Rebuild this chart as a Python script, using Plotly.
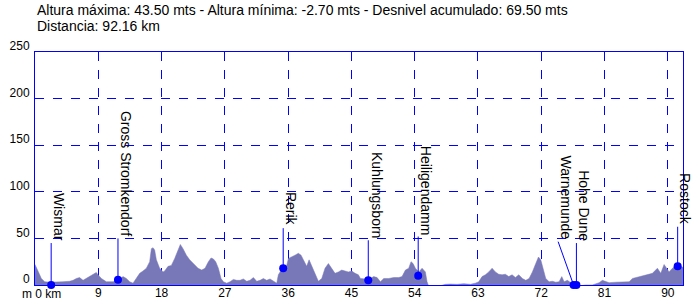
import plotly.graph_objects as go

# Elevation profile (km, m)
dist_km = [0.0, 0.28, 0.57, 0.90, 1.38, 2.09, 3.03, 3.98, 4.93, 5.41, 5.88, 6.35, 6.83, 7.30, 7.78,
           8.25, 8.72, 8.96, 9.44, 10.15, 11.10, 11.81, 12.52, 12.99, 13.47, 13.94, 14.41, 14.89,
           15.36, 15.84, 16.31, 16.55, 16.79, 17.02, 17.26, 17.73, 18.21, 18.44, 18.92, 19.39,
           19.87, 20.34, 20.67, 21.05, 21.53, 22.00, 22.48, 22.95, 23.19,
           23.71, 24.18, 24.66, 25.04, 25.37, 25.70, 26.08, 26.46, 26.79, 27.26, 27.74, 28.21,
           28.69, 29.16, 29.63, 30.11, 30.58, 31.06, 31.53, 32.01, 32.48, 32.95, 33.43, 33.90,
           34.38, 34.61, 34.85, 35.32, 35.80, 36.04, 36.51, 36.98, 37.46, 37.84, 38.17, 38.64,
           38.98, 39.36, 39.83, 40.30, 40.78, 41.25, 41.73, 42.20, 42.67, 43.15, 43.62, 44.10,
           44.57, 45.05, 45.52, 45.99,
           46.28, 46.99, 47.70, 48.17, 48.65, 49.12, 49.60, 50.31, 51.02, 51.73, 52.20, 52.68,
           53.15, 53.48, 53.77, 54.10, 54.58, 55.05, 55.52, 55.76, 56.00, 56.71, 57.66, 58.37,
           59.08, 60.03, 60.98, 61.92, 62.64, 63.11, 63.58, 64.06, 64.53, 65.01, 65.48, 65.96,
           66.43, 66.90, 67.38, 67.85, 68.33, 68.80,
           69.32, 69.80, 70.27, 70.74, 71.22, 71.60, 71.93, 72.26, 72.64, 73.12, 73.59, 74.06,
           74.54, 74.92, 75.25, 75.72, 76.20, 76.67, 77.38, 78.33, 79.28, 80.23, 80.70, 81.18,
           81.65, 82.60, 83.55, 84.50, 84.97, 85.92, 86.87, 87.81, 88.52, 89.00, 89.47, 89.81,
           90.18, 90.66, 91.13, 91.61, 92.08, 92.16]
elev_m = [22, 18, 12.5, 7, 3.5, 3, 3, 3.5, 4, 5, 7, 8, 5, 7, 9,
          11, 13.5, 11, 7, 3.5, 3.5, 5, 9, 7, 3.5, 2, 7, 12.5,
          15, 18, 25, 39, 40, 37.5, 27, 18, 14, 15, 20, 21,
          28.5, 37.5, 43.5, 39, 32, 27, 23, 20, 18,
          16, 18, 25, 29, 28, 25, 18, 7, 3.5, 2, 3.5, 6,
          5, 5, 6.5, 4, 5, 8, 4, 5, 7, 5, 6.5, 4,
          2, 11, 14, 18, 21, 28.5, 30, 32, 34, 32, 27, 20,
          27, 20, 11, 4, 7, 18, 23, 18, 12.5, 14, 16, 15,
          14, 15, 12.5, 11,
          7, 6.5, 7, 9, 8, 3.5, 7, 7, 8, 8, 9, 16,
          18, 25, 23, 18, 14, 18, 14, 3.5, -1.5, -2.7, -1, 0.7,
          1, 0.7, 1.4, 0.7, 2, 3.5, 9, 11, 14, 18, 14, 11.5,
          11, 11.5, 9, 11, 8, 11,
          7, 5, 7, 14, 23, 30, 27, 18, 7, 3.5, 4, 3,
          3.5, 9, 3.5, 5, 2, 0, -1, 0, 0, 2.5, 5, 3.5,
          2.5, 3, 3, 3.5, 7, 9, 11, 12.5, 18, 12.5, 22, 18,
          14, 18, 21, 20, 19, 19]

# Waypoints
wp_names = ["Wismar", "Gross Stromkendorf", "Rerik", "Kuhlungsborn", "Heiligendamm",
            "Warnemunde", "Hohe Dune", "Rostock"]
wp_km = [2.3, 11.8, 35.3, 47.4, 54.5, 76.6, 77.0, 91.4]
wp_elev = [0, 5.5, 18, 5, 10, 0, 0, 20]
wp_label_km = [2.3, 11.8, 35.3, 47.4, 54.5, 74.4, 77.0, 91.4]
wp_label_elev = [45, 50, 61, 48, 52, 46.5, 45, 62.5]

x_ticks = [9, 18, 27, 36, 45, 54, 63, 72, 81, 90]
y_ticks = [0, 50, 100, 150, 200, 250]

BLUE = "#0000ff"
FONT = "Liberation Sans, Arial, sans-serif"

fig = go.Figure()
fig.add_trace(go.Scatter(x=dist_km, y=elev_m, mode="lines", fill="tozeroy",
                         line=dict(color="#7878b8", width=0.5),
                         fillcolor="#7878b8", hoverinfo="skip"))

lx, ly = [], []
for k, e, lk, le in zip(wp_km, wp_elev, wp_label_km, wp_label_elev):
    lx += [k, lk, None]
    ly += [e, le, None]
fig.add_trace(go.Scatter(x=lx, y=ly, mode="lines", line=dict(color=BLUE, width=1),
                         hoverinfo="skip"))
fig.add_trace(go.Scatter(x=wp_km, y=wp_elev, mode="markers", cliponaxis=False,
                         marker=dict(color=BLUE, size=8), hoverinfo="skip"))

for name, lk, le in zip(wp_names, wp_label_km, wp_label_elev):
    fig.add_annotation(x=lk, y=le, xref="x", yref="y", text=name, textangle=90,
                       showarrow=False, xanchor="left", yanchor="bottom",
                       xshift=-2, yshift=0,
                       font=dict(family=FONT, size=14, color="black"))

fig.add_annotation(x=0, y=0, xref="x", yref="paper", text="m 0 km", showarrow=False,
                   xanchor="left", yanchor="top", xshift=-14, yshift=-1, borderpad=0,
                   font=dict(family=FONT, size=12, color="black"))

fig.add_annotation(x=0, y=1, xref="paper", yref="paper", text=(
    "Altura máxima: 43.50 mts - Altura mínima: -2.70 mts - Desnivel acumulado: 69.50 mts"),
    showarrow=False, xanchor="left", yanchor="middle", yshift=42,
    font=dict(family=FONT, size=14, color="black"))
fig.add_annotation(x=0, y=1, xref="paper", yref="paper", text="Distancia: 92.16 km",
                   showarrow=False, xanchor="left", yanchor="middle", yshift=26,
                   font=dict(family=FONT, size=14, color="black"))

fig.update_layout(
    width=700, height=300, margin=dict(l=35, r=17, t=52, b=15),
    paper_bgcolor="white", plot_bgcolor="white", showlegend=False,
    font=dict(family=FONT, size=12, color="black"),
)
fig.update_xaxes(range=[0, 92.16], tickvals=x_ticks, ticks="", showgrid=True,
                 gridcolor=BLUE, griddash="dash", gridwidth=1, showline=True,
                 linecolor=BLUE, linewidth=1, mirror=True, zeroline=False,
                 automargin=False, ticklabelstandoff=-3, tickfont=dict(size=12))
fig.update_yaxes(range=[0, 250], tickvals=y_ticks, ticks="", showgrid=True,
                 gridcolor=BLUE, griddash="dash", gridwidth=1, showline=True,
                 linecolor=BLUE, linewidth=1, mirror=True, zeroline=False,
                 automargin=False, ticklabelshift=-6, ticklabelstandoff=2,
                 tickfont=dict(size=12))

fig.write_html("out.html")
